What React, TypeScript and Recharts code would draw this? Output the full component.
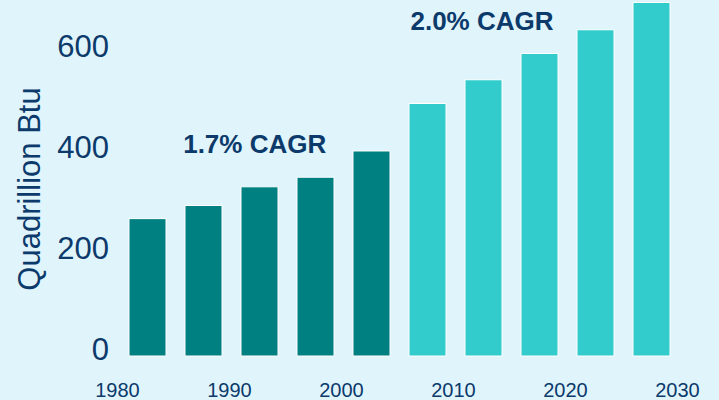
import React from "react";
import { BarChart, Bar, XAxis, YAxis } from "recharts";

const periodMid = [1982.5, 1987.5, 1992.5, 1997.5, 2002.5, 2007.5, 2012.5, 2017.5, 2022.5, 2027.5];
const historical = [272, 298, 335, 354, 406, null, null, null, null, null];
const projected = [null, null, null, null, null, 500, 547, 599, 646, 700];
const yearTicks = [1980, 1990, 2000, 2010, 2020, 2030];
const yTicks = [0, 200, 400, 600];

const data = periodMid.map((m, i) => ({
  mid: m,
  historical: historical[i],
  projected: projected[i],
}));

const NAVY = "#0b3a6b";
const FONT = "'Liberation Sans', Arial, sans-serif";

const YTick = (props: any) => {
  const { x, y, payload } = props;
  return (
    <text x={x} y={y} dy={4} textAnchor="end" fontSize={31} fill={NAVY} fontFamily={FONT}>
      {payload.value}
    </text>
  );
};

const XTick = (props: any) => {
  const { x, y, payload } = props;
  return (
    <text x={x} y={y} dx={-2.5} dy={40.5} textAnchor="middle" fontSize={20} fill={NAVY} fontFamily={FONT}>
      {payload.value}
    </text>
  );
};

export default function App() {
  return (
    <div style={{ position: "absolute", left: 0, top: 0, width: 719, height: 400, background: "#e0f4fc" }}>
      <BarChart width={719} height={400} data={data} margin={{ top: 2.5, right: 39, bottom: 0, left: 0 }}>
        <XAxis
          dataKey="mid"
          type="number"
          domain={[1980, 2030]}
          ticks={yearTicks}
          axisLine={false}
          tickLine={false}
          tickSize={0}
          tickMargin={0}
          height={44}
          tick={<XTick />}
          interval={0}
        />
        <YAxis
          domain={[0, 700]}
          ticks={yTicks}
          width={120}
          axisLine={false}
          tickLine={false}
          tickSize={0}
          tickMargin={11}
          tick={<YTick />}
          interval={0}
        />
        <Bar dataKey="historical" stackId="a" fill="#008080" stroke="#ffffff" strokeWidth={1} barSize={37} isAnimationActive={false} />
        <Bar dataKey="projected" stackId="a" fill="#33cccc" stroke="#ffffff" strokeWidth={1} barSize={37} isAnimationActive={false} />
        <text x={254.7} y={152.5} textAnchor="middle" fontSize={26} fontWeight="bold" fill={NAVY} fontFamily={FONT}>
          1.7% CAGR
        </text>
        <text x={482} y={30} textAnchor="middle" fontSize={26} fontWeight="bold" fill={NAVY} fontFamily={FONT}>
          2.0% CAGR
        </text>
        <text x={40} y={189} transform="rotate(-90, 40, 189)" textAnchor="middle" fontSize={31} fill={NAVY} fontFamily={FONT}>
          Quadrillion Btu
        </text>
      </BarChart>
    </div>
  );
}
